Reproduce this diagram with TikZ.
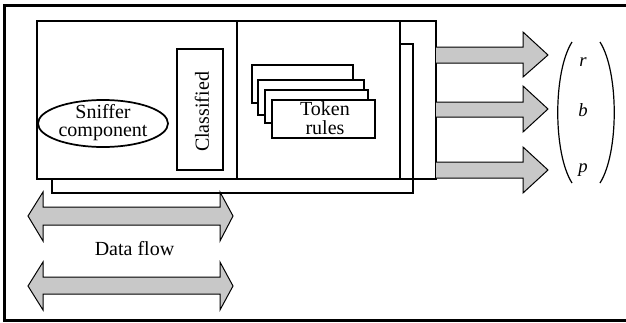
\documentclass[tikz,border=0pt]{standalone}
\usepackage{fontspec}
\setmainfont{Liberation Serif}
\usetikzlibrary{shapes.geometric}
\definecolor{arrowgray}{RGB}{200,200,200}
\begin{document}
\begin{tikzpicture}[x=0.75pt,y=-0.75pt,
  box/.style={draw,line width=1.3pt},
  fat/.style={draw,line width=0.75pt,fill=arrowgray,line join=miter},
  lbl/.style={font=\fontsize{15}{14}\selectfont,inner sep=0pt,align=center},
  vec/.style={font=\fontsize{14}{14}\selectfont,inner sep=0pt}]
\useasboundingbox (0,0) rectangle (626,322);
\clip (0,0) rectangle (626,322);
% outer frame
\draw[line width=1.8pt] (4.5,5.5) rectangle (628,320.5);
% back (shadow) box
\draw[box] (52,44) rectangle (413,193);
% main box
\draw[box,fill=white] (37,21) rectangle (400,179);
\draw[box] (237,21) -- (237,179);
% right strip
\draw[box] (400,21) rectangle (436,179);
% sniffer
\node[draw,ellipse,line width=1.3pt,minimum width=97.5pt,minimum height=35.25pt,inner sep=0pt] (sniffell) at (103,123.5) {};
\node[lbl] (sniff) at (103,122.5) {Sniffer\\component};
% classified
\node[box,minimum width=34.5pt,minimum height=90.75pt,inner sep=0pt] (clsbox) at (200,109.5) {};
\node[lbl,rotate=90] (cls) at (202,112) {Classified};
% token rule stack
\draw[box,fill=white] (252,65) rectangle (353,103);
\draw[box,fill=white] (258,80) rectangle (364,115);
\draw[box,fill=white] (265,90) rectangle (368,123);
\draw[box,fill=white] (272,100) rectangle (375,138);
\node[lbl] (token) at (325,118) {Token\\rules};
% output arrows
\draw[fat] (436,47) -- (523,47) -- (523,32) -- (548,55) -- (523,77) -- (523,63) -- (436,63);
\draw[fat] (436,102) -- (523,102) -- (523,86) -- (548,109) -- (523,132) -- (523,117) -- (436,117);
\draw[fat] (436,162) -- (523,162) -- (523,147) -- (548,170) -- (523,193) -- (523,178) -- (436,178);
% vector
\draw[line width=0.9pt] (572,42) .. controls (553,72) and (553,153) .. (572,183);
\draw[line width=0.9pt] (600,42) .. controls (619,72) and (619,153) .. (600,183);
\node[vec] (r) at (583,62) {\textit{r}};
\node[vec] (b) at (583,110) {\textit{b}};
\node[vec] (p) at (583,170) {\textit{p}};
% data flow arrows
\draw[fat] (28,216) -- (43,192) -- (43,207) -- (220,207) -- (220,192) -- (233,216) -- (220,241) -- (220,225) -- (43,225) -- (43,241) -- cycle;
\draw[fat] (28,286) -- (43,262) -- (43,277) -- (220,277) -- (220,262) -- (233,286) -- (220,310) -- (220,294) -- (43,294) -- (43,310) -- cycle;
\node[lbl] (df) at (134.5,249) {Data flow};
\end{tikzpicture}
\end{document}
